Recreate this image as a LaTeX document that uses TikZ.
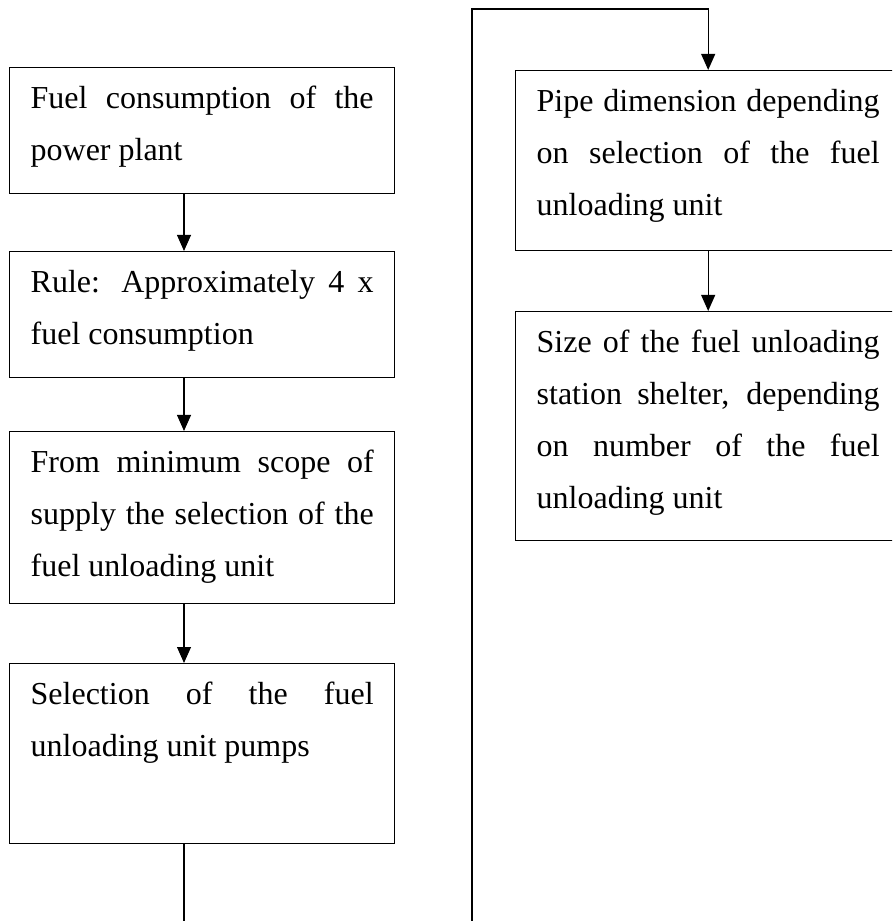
\documentclass[tikz,border=0pt]{standalone}
\usepackage{fontspec}
\setmainfont{Liberation Serif}
\usetikzlibrary{arrows.meta}

\begin{document}
\begin{tikzpicture}[
        x=0.375pt, y=-0.375pt,
        box/.style={rectangle, draw, line width=0.5pt, anchor=north west,
            text width=128.625pt, inner xsep=7.875pt, inner ysep=0pt,
            text height=15.375pt, align=justify,
            font=\fontsize{12}{19.5}\selectfont},
        arrow/.style={-{Triangle[length=6pt, width=5.2pt]}, line width=0.5pt},
        link/.style={line width=0.5pt}
    ]
        \useasboundingbox (0,0) rectangle (892,921);
        \clip (0,0) rectangle (892,921);
        % left column
        \node[box, text depth=31.875pt] (consumption) at (9,67)
            {Fuel consumption of the\linebreak power plant};
        \node[box, text depth=31.875pt] (rule) at (9,251)
            {Rule: Approximately 4 x\linebreak fuel consumption};
        \node[box, text depth=49.125pt] (scope) at (9,431)
            {From minimum scope of\linebreak supply the selection of the\linebreak fuel unloading unit};
        \node[box, text depth=52.125pt] (pumps) at (9,663)
            {Selection of the fuel\linebreak unloading unit pumps};
        % right column
        \node[box, text depth=52.125pt] (pipe) at (515,70)
            {Pipe dimension depending\linebreak on selection of the fuel\linebreak unloading unit};
        \node[box, text depth=70.5pt] (shelter) at (515,311)
            {Size of the fuel unloading\linebreak station shelter, depending\linebreak on number of the fuel\linebreak unloading unit};
        \coordinate (spine) at (184,0);
        \coordinate (leftend) at (184,921);
        \coordinate (rightend) at (472,921);
        \coordinate (turn) at (472,9);
        \draw[arrow] (consumption.south -| spine) -- (rule.north -| spine);
        \draw[arrow] (rule.south -| spine) -- (scope.north -| spine);
        \draw[arrow] (scope.south -| spine) -- (pumps.north -| spine);
        \draw[link] (pumps.south -| spine) -- (leftend);
        \draw[arrow] (rightend) -- (turn) -| (pipe.north);
        \draw[arrow] (pipe.south) -- (shelter.north);
    \end{tikzpicture}
\end{document}
